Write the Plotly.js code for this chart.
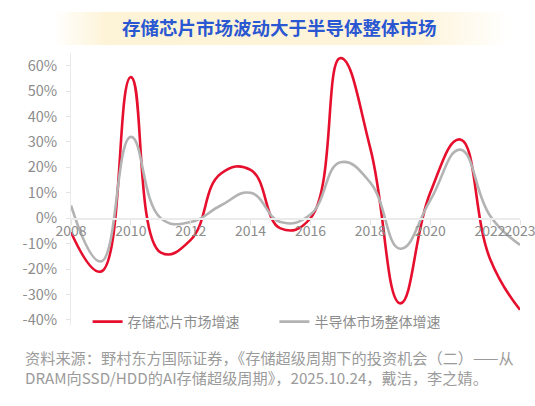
<!DOCTYPE html>
<html>
<head>
<meta charset="utf-8">
<script src="https://cdn.plot.ly/plotly-3.0.1.min.js"></script>
<style>
  html, body { margin: 0; padding: 0; background: #ffffff; }
  #wrap { position: relative; width: 535px; height: 406px; }
  #band { position: absolute; left: 53px; top: 12px; width: 456px; height: 33px;
    background: linear-gradient(to right, rgba(253,243,213,0) 0%, #fdf3d6 12%, #fef4da 80%, rgba(255,255,255,0) 100%); }
  #chart { position: absolute; left: 0; top: 0; width: 535px; height: 406px; }
</style>
</head>
<body>
<div id="wrap">
  <div id="band"></div>
  <div id="chart"></div>
</div>
<script>
const years = [2008, 2009, 2010, 2011, 2012, 2013, 2014, 2015, 2016, 2017, 2018, 2019, 2020, 2021, 2022, 2023];
const memoryGrowth = [-5.5, -21, 55.5, -13.5, -8.5, 17.5, 19, -4, 0, 63, 27.5, -33.5, 10, 31, -16, -36];
const semiGrowth = [5, -17, 32, 0, -1.5, 5, 10, -1.5, 1.5, 22, 14, -12, 7, 27, 1, -10.5];
const xTickVals = [2008, 2010, 2012, 2014, 2016, 2018, 2020, 2022, 2023];
const yTickVals = [-40, -30, -20, -10, 0, 10, 20, 30, 40, 50, 60];
const memoryName = '存储芯片市场增速';
const semiName = '半导体市场整体增速';
const titleText = '存储芯片市场波动大于半导体整体市场';
const sourceText = '资料来源：野村东方国际证券，《存储超级周期下的投资机会（二）——从<br>DRAM向SSD/HDD的AI存储超级周期》，2025.10.24，戴洁，李之婧。';

const FONT = '"Noto Sans CJK SC", "Noto Sans", sans-serif';
const yMin = -42, yMax = 65;

const traces = [
  { x: years, y: memoryGrowth, name: memoryName, type: 'scatter', mode: 'lines', legend: 'legend',
    line: { color: '#e60f2d', width: 2.6, shape: 'spline', smoothing: 1.3 } },
  { x: years, y: semiGrowth, name: semiName, type: 'scatter', mode: 'lines', legend: 'legend2',
    line: { color: '#b3b3b3', width: 2.6, shape: 'spline', smoothing: 1.3 } }
];

const legendBase = { orientation: 'h', xanchor: 'left', y: 0.011, yanchor: 'middle',
  bgcolor: 'rgba(0,0,0,0)', font: { family: FONT, size: 14, color: '#8c8c8c' }, itemwidth: 30 };

const layout = {
  width: 535, height: 406,
  margin: { l: 71, r: 15, t: 53, b: 81 },
  paper_bgcolor: 'rgba(0,0,0,0)',
  plot_bgcolor: 'rgba(0,0,0,0)',
  font: { family: FONT, color: '#8c8c8c', size: 14.5 },
  title: { text: titleText, x: 0.522, xref: 'container', xanchor: 'center',
    y: 1 - 29 / 406, yref: 'container', yanchor: 'middle',
    font: { family: FONT, size: 18.5, color: '#2a58d2', weight: 'bold' } },
  xaxis: {
    range: [2008, 2023], anchor: 'free', position: (0 - yMin) / (yMax - yMin),
    tickmode: 'array', tickvals: xTickVals, ticktext: xTickVals.map(String), tickangle: 0,
    showgrid: false, zeroline: false, showline: true, linecolor: '#ebebeb', linewidth: 1.5,
    ticks: 'outside', ticklen: 5, tickcolor: '#e3e3e3', tickwidth: 1,
    tickfont: { family: FONT, size: 14, color: '#8c8c8c' }, ticklabelstandoff: -6,
    ticklabeloverflow: 'allow', fixedrange: true
  },
  yaxis: {
    range: [yMin, yMax], tickmode: 'array', tickvals: yTickVals,
    ticktext: yTickVals.map(v => v + '%'),
    showgrid: false, zeroline: false, showline: true, linecolor: '#ebebeb', linewidth: 1,
    ticks: 'outside', ticklen: 4, tickcolor: '#e3e3e3',
    tickfont: { family: FONT, size: 14.5, color: '#8c8c8c' }, ticklabelstandoff: 6,
    fixedrange: true
  },
  showlegend: true,
  legend: Object.assign({}, legendBase, { x: 0.037 }),
  legend2: Object.assign({}, legendBase, { x: 0.453 }),
  annotations: [
    { text: sourceText, xref: 'paper', yref: 'paper', x: -0.108, y: -0.155,
      xanchor: 'left', yanchor: 'middle', align: 'left', showarrow: false,
      font: { family: FONT, size: 15.2, color: '#9b9b9b' } }
  ]
};

Plotly.newPlot('chart', traces, layout, { displayModeBar: false, staticPlot: true });
</script>
</body>
</html>
